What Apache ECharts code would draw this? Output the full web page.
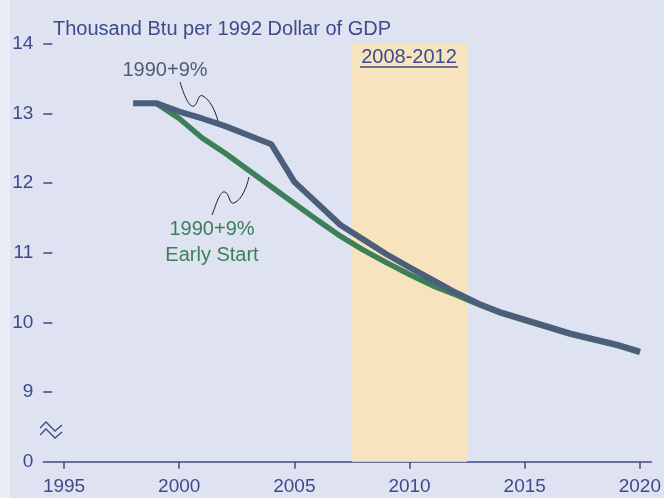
<!DOCTYPE html>
<html>
<head>
<meta charset="utf-8">
<script src="https://cdn.jsdelivr.net/npm/echarts@6/dist/echarts.min.js"></script>
<style>
  html, body { margin: 0; padding: 0; background: #eceef7; }
  #chart { width: 664px; height: 498px; }
</style>
</head>
<body>
<div id="chart"></div>
<script>
// years on the x axis
const years = [1998, 1999, 2000, 2001, 2002, 2003, 2004, 2005, 2006, 2007, 2008,
  2009, 2010, 2011, 2012, 2013, 2014, 2015, 2016, 2017, 2018, 2019, 2020];
// 1990+9% case
const base = [13.15, 13.15, 13.03, 12.93, 12.82, 12.69, 12.56, 12.02, 11.71, 11.40, 11.19,
  10.98, 10.79, 10.61, 10.43, 10.27, 10.14, 10.04, 9.94, 9.84, 9.76, 9.68, 9.58];
// 1990+9% Early Start (starts in 1999)
const earlyYears = years.slice(1);
const early = [13.15, 12.93, 12.65, 12.43, 12.19, 11.95, 11.71, 11.47, 11.24, 11.04,
  10.86, 10.69, 10.53, 10.40, 10.26, 10.13, 10.03, 9.93, 9.83, 9.75, 9.67, 9.57];
const xTicks = [1995, 2000, 2005, 2010, 2015, 2020];
const yTicks = [8, 9, 10, 11, 12, 13, 14];
const budget = [2007.5, 2012.5];

const navy = '#3d4a8c';
const slate = '#4b5e7c';
const green = '#3c7f58';
const font = 'Liberation Sans, Arial, sans-serif';

// squiggly leader line made of cubic pieces: [x1,y1,cx1,cy1,cx2,cy2,x2,y2]
function leader(parts) {
  return parts.map(p => ({
    type: 'bezierCurve', z: 10, silent: true,
    shape: { x1: p[0], y1: p[1], cpx1: p[2], cpy1: p[3], cpx2: p[4], cpy2: p[5], x2: p[6], y2: p[7] },
    style: { stroke: '#222', lineWidth: 1, fill: null }
  }));
}

const chart = echarts.init(document.getElementById('chart'));
chart.setOption({
  animation: false,
  backgroundColor: 'transparent',
  title: {
    text: 'Thousand Btu per 1992 Dollar of GDP',
    left: 48,
    top: 14,
    textStyle: { color: navy, fontSize: 20, fontWeight: 'normal', fontFamily: font }
  },
  grid: { left: 43.3, right: 12.3, top: 44, bottom: 36.3, containLabel: false },
  xAxis: {
    type: 'value',
    min: 1994.1,
    max: 2020.5,
    axisLine: { lineStyle: { color: navy, width: 1.5 } },
    axisTick: { customValues: xTicks, length: 7, lineStyle: { color: navy, width: 1.5 } },
    axisLabel: {
      customValues: xTicks,
      margin: 16,
      color: navy,
      fontSize: 19,
      fontFamily: font,
      formatter: v => String(v)
    },
    splitLine: { show: false }
  },
  yAxis: {
    type: 'value',
    min: 8,
    max: 14,
    interval: 1,
    axisLine: { show: false },
    axisTick: { inside: true, length: 9, customValues: yTicks.slice(1), lineStyle: { color: navy, width: 1.5 } },
    axisLabel: {
      customValues: yTicks,
      margin: 10,
      color: navy,
      fontSize: 19,
      fontFamily: font,
      formatter: v => (v === 8 ? '0' : String(v))
    },
    splitLine: { show: false }
  },
  graphic: [
    {
      type: 'rect', z: -10, silent: true,
      shape: { x: 10, y: 0, width: 654, height: 498 },
      style: { fill: '#dfe2f1' }
    },
    // axis break mark
    {
      type: 'polyline', z: 10,
      shape: { points: [[40, 428], [46, 422], [55, 431], [62, 425]] },
      style: { stroke: navy, lineWidth: 1.3, fill: null }
    },
    {
      type: 'polyline', z: 10,
      shape: { points: [[40, 435], [46, 429], [55, 438], [62, 432]] },
      style: { stroke: navy, lineWidth: 1.3, fill: null }
    },
    // budget period label
    {
      type: 'text', z: 10,
      style: { text: '2008-2012', x: 409, y: 57, fill: navy, fontSize: 20, fontFamily: font, align: 'center', verticalAlign: 'middle' }
    },
    {
      type: 'line', z: 10,
      shape: { x1: 360, y1: 67, x2: 458, y2: 67 },
      style: { stroke: navy, lineWidth: 1.3 }
    },
    // series labels
    {
      type: 'text', z: 10,
      style: { text: '1990+9%', x: 165, y: 70, fill: slate, fontSize: 20, fontFamily: font, align: 'center', verticalAlign: 'middle' }
    },
    {
      type: 'text', z: 10,
      style: { text: '1990+9%\nEarly Start', x: 212, y: 242, fill: green, fontSize: 20, lineHeight: 26, fontFamily: font, align: 'center', verticalAlign: 'middle' }
    }
  ].concat(
    leader([
      [180, 82, 184, 95, 189, 108, 194, 106],
      [194, 106, 198, 104, 198, 93, 203, 96],
      [203, 96, 210, 100, 215, 110, 218, 121]
    ]),
    leader([
      [212, 215, 216, 205, 220, 190, 225, 192],
      [225, 192, 230, 194, 229, 205, 234, 203],
      [234, 203, 242, 200, 247, 186, 249, 177]
    ])
  ),
  series: [
    {
      name: '1990+9% Early Start',
      type: 'line',
      showSymbol: false,
      z: 2,
      data: earlyYears.map((y, i) => [y, early[i]]),
      lineStyle: { color: green, width: 5.5 },
      markArea: {
        silent: true,
        itemStyle: { color: '#f7e4bf' },
        data: [[{ xAxis: budget[0], yAxis: 8 }, { xAxis: budget[1], yAxis: 14 }]]
      }
    },
    {
      name: '1990+9%',
      type: 'line',
      showSymbol: false,
      z: 3,
      data: years.map((y, i) => [y, base[i]]),
      lineStyle: { color: slate, width: 6 }
    }
  ]
});
</script>
</body>
</html>
